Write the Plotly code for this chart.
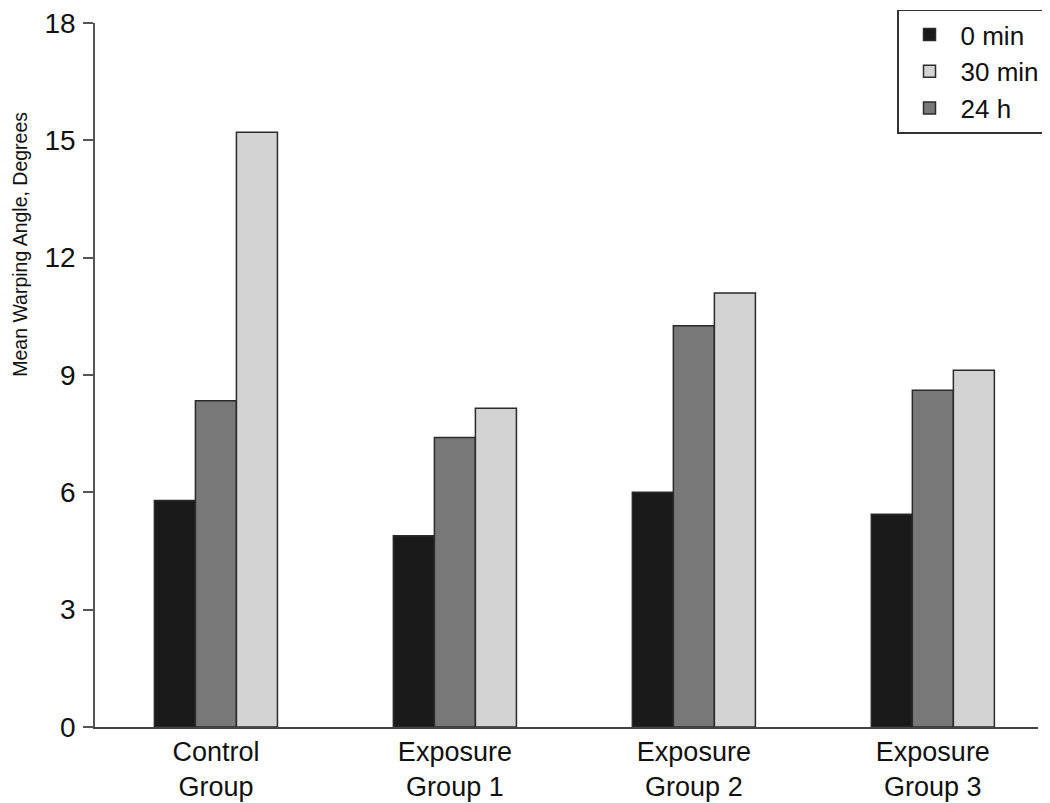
import plotly.graph_objects as go

categories = ["Control<br>Group", "Exposure<br>Group 1", "Exposure<br>Group 2", "Exposure<br>Group 3"]
series_names = ["0 min", "24 h", "30 min"]
vals_0min = [5.79, 4.89, 6.00, 5.44]
vals_24h = [8.34, 7.40, 10.26, 8.61]
vals_30min = [15.21, 8.15, 11.10, 9.12]
colors = ["#1a1a1a", "#787878", "#d3d3d3"]
legend_ranks = [1, 3, 2]
y_ticks = [0, 3, 6, 9, 12, 15, 18]

narrow = "Liberation Sans Narrow, Arial Narrow, Liberation Sans, Arial, sans-serif"
regular = "Liberation Sans, Arial, sans-serif"

fig = go.Figure()
for name, vals, col, rank in zip(series_names, [vals_0min, vals_24h, vals_30min], colors, legend_ranks):
    fig.add_trace(go.Bar(
        name=name, x=categories, y=vals,
        marker=dict(color=col, line=dict(color="#2b2b2b", width=1.5)),
        legendrank=rank,
    ))

fig.update_layout(
    width=1042, height=795,
    paper_bgcolor="white", plot_bgcolor="white",
    margin=dict(l=87, r=12, t=15, b=76, autoexpand=False),
    barmode="group", bargap=0.485, bargroupgap=0,
    font=dict(family=regular, color="#111111"),
    showlegend=True,
    legend=dict(
        x=1.0085, y=1.019, xanchor="right", yanchor="top",
        bordercolor="#333333", borderwidth=1.5, bgcolor="white",
        font=dict(family=regular, size=26, color="#111111"),
        traceorder="normal", itemwidth=52,
    ),
    xaxis=dict(
        range=[-0.506, 3.44],
        showline=True, linecolor="#444444", linewidth=1.5,
        ticks="", showgrid=False, zeroline=False,
        tickfont=dict(family=narrow, size=27, color="#111111"),
    ),
    yaxis=dict(
        range=[0, 18.0005], tickvals=y_ticks, ticktext=[str(v) for v in y_ticks],
        showline=True, linecolor="#555555", linewidth=1.5,
        ticks="outside", ticklen=10, tickwidth=1.5, tickcolor="#555555",
        ticklabelstandoff=2, ticklabeloverflow="allow",
        showgrid=False, zeroline=False,
        tickfont=dict(family=regular, size=28, color="#111111"),
    ),
    annotations=[dict(
        text="Mean Warping Angle, Degrees", textangle=-90,
        xref="paper", yref="paper", x=-0.0795, y=0.685,
        xanchor="center", yanchor="middle", showarrow=False,
        font=dict(family=narrow, size=19.5, color="#111111"),
    )],
)

fig.write_html("out.html")
